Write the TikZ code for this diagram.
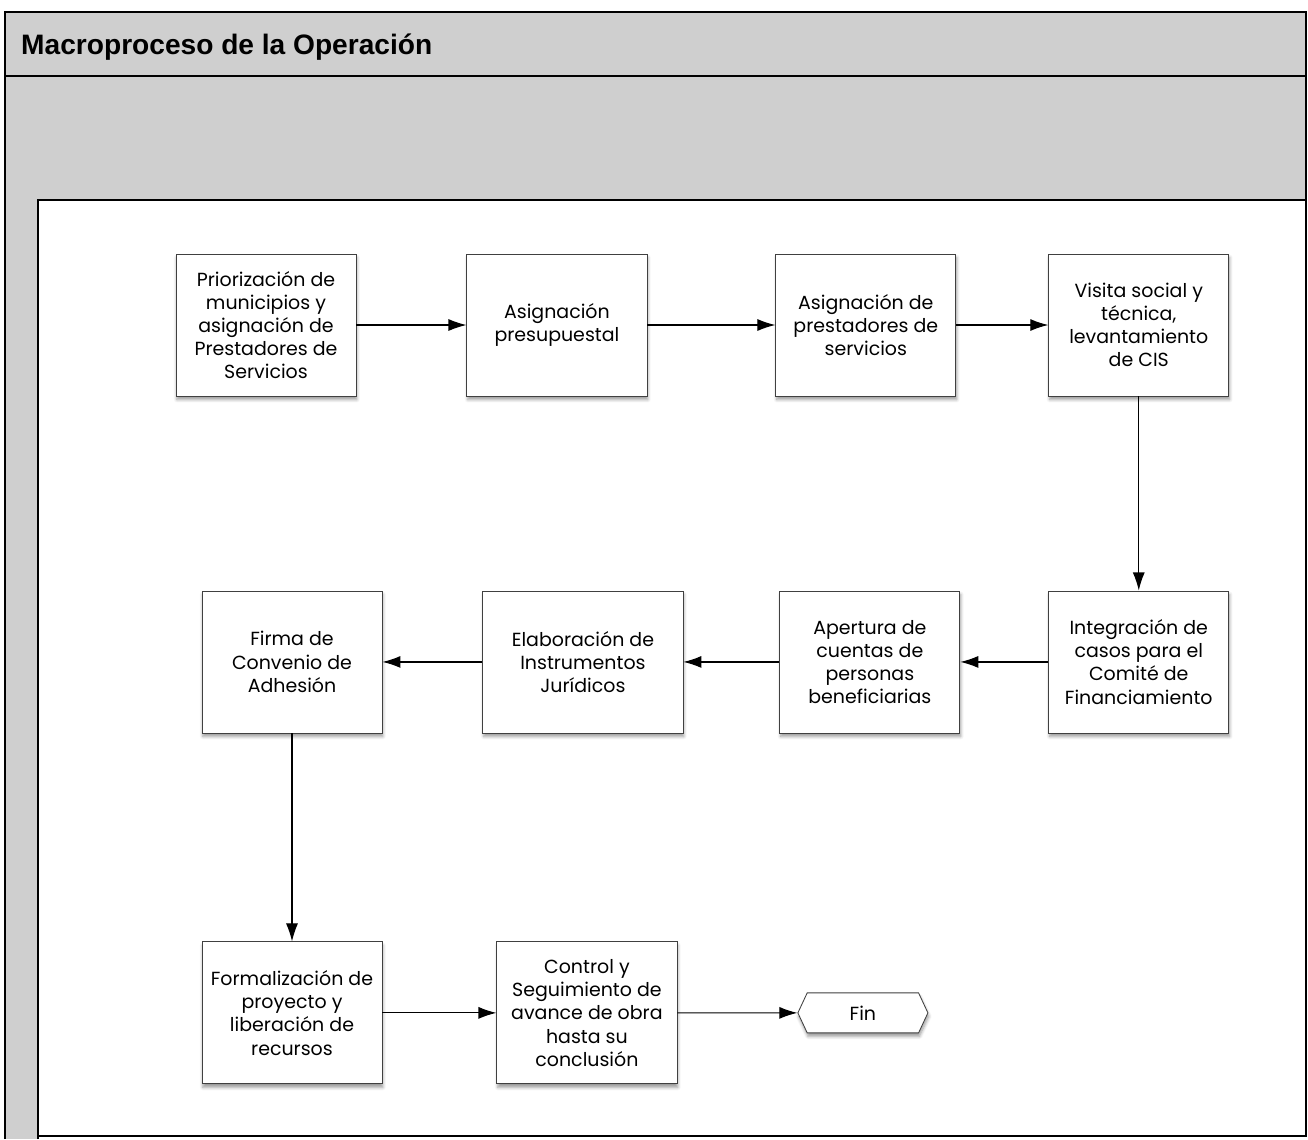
\documentclass[tikz,border=0pt]{standalone}
\usepackage{fontspec}
\setmainfont{Poppins}
\newfontfamily\titlefont{Liberation Sans}
\usetikzlibrary{positioning,shapes.symbols,shadows.blur,arrows.meta}

\begin{document}
\begin{tikzpicture}[
		x=0.025cm, y=-0.025cm,
		align=center,
		>={Latex[length=0.45cm,width=0.3cm]},
		line width=0.8pt,
		band/.style={fill=black!19},
		frame/.style={draw=black, line width=1.2pt},
		task/.style={
				rectangle,
				draw=black!75,
				line width=0.6pt,
				fill=white,
				minimum width=4.5cm,
				minimum height=3.55cm,
				inner sep=2pt,
				font=\fontsize{13.5}{16.5}\selectfont,
				blur shadow={shadow xshift=0.6pt, shadow yshift=-2.5pt, shadow blur steps=5}
			},
		finish/.style={task, signal, signal to=west and east, signal pointer angle=130,
				minimum width=3.25cm, minimum height=1cm}
	]
	\useasboundingbox (0,0) rectangle (1308,1139);

	% swimlane frame
	\fill[band] (5,12) rectangle (1306,76);
	\fill[band] (38,76) rectangle (1306,200);
	\fill[band] (5,76) rectangle (38,1139);
	\draw[frame] (5,1139) -- (5,12) -- (1306,12) -- (1306,1136) -- (38,1136);
	\draw[frame] (5,76) -- (1306,76);
	\draw[frame] (38,1139) -- (38,200) -- (1306,200);
	\node[anchor=west, font=\titlefont\bfseries\fontsize{20}{22}\selectfont] (title) at (16,47) {Macroproceso de la Operación};

	% first row
	\node[task] (priorizacion) at (266,325) {Priorización de\\municipios y\\asignación de\\Prestadores de\\Servicios};
	\node[task, right=2.75cm of priorizacion] (presupuesto) {Asignación\\presupuestal}
	edge [<-] (priorizacion);
	\node[task, right=3.2cm of presupuesto] (prestadores) {Asignación de\\prestadores de\\servicios}
	edge [<-] (presupuesto);
	\node[task, right=2.3cm of prestadores] (visita) {Visita social y\\técnica,\\levantamiento\\de CIS}
	edge [<-] (prestadores);

	% second row
	\node[task, below=4.85cm of visita] (integracion) {Integración de\\casos para el\\Comité de\\Financiamiento}
	edge [<-] (visita);
	\node[task, left=2.2cm of integracion] (apertura) {Apertura de\\cuentas de\\personas\\beneficiarias}
	edge [<-] (integracion);
	\node[task, minimum width=5cm, left=2.4cm of apertura] (instrumentos) {Elaboración de\\Instrumentos\\Jurídicos}
	edge [<-] (apertura);
	\node[task, left=2.5cm of instrumentos] (convenio) {Firma de\\Convenio de\\Adhesión}
	edge [<-] (instrumentos);

	% third row
	\node[task, below=5.2cm of convenio] (formalizacion) {Formalización de\\proyecto y\\liberación de\\recursos}
	edge [<-] (convenio);
	\node[task, right=2.85cm of formalizacion] (seguimiento) {Control y\\Seguimiento de\\avance de obra\\hasta su\\conclusión}
	edge [<-] (formalizacion);
	\node[finish, right=3cm of seguimiento] (fin) {Fin}
	edge [<-] (seguimiento);
\end{tikzpicture}
\end{document}
